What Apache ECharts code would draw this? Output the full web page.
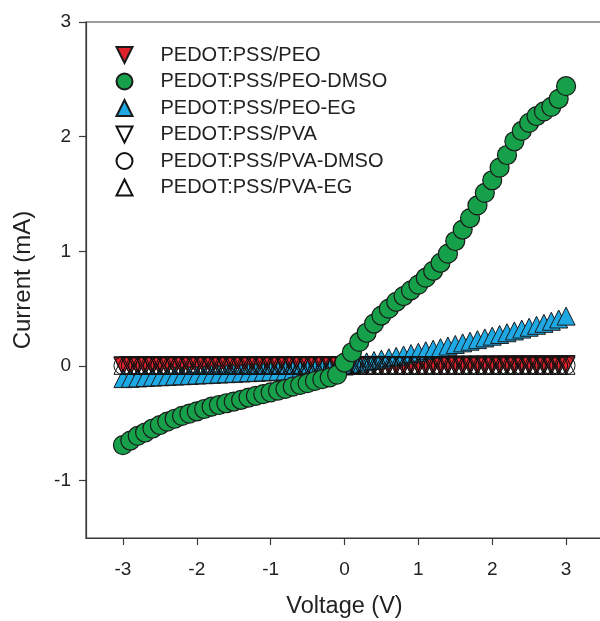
<!DOCTYPE html>
<html>
<head>
<meta charset="utf-8">
<script src="https://cdn.jsdelivr.net/npm/echarts@6/dist/echarts.min.js"></script>
<style>html,body{margin:0;padding:0;background:#fff;}#c{width:600px;height:621px;}</style>
</head>
<body>
<div id="c"></div>
<script>
var voltage = [-3.0,-2.9,-2.8,-2.7,-2.6,-2.5,-2.4,-2.3,-2.2,-2.1,-2.0,-1.9,-1.8,-1.7,-1.6,-1.5,-1.4,-1.3,-1.2,-1.1,-1.0,-0.9,-0.8,-0.7,-0.6,-0.5,-0.4,-0.3,-0.2,-0.1,0.0,0.1,0.2,0.3,0.4,0.5,0.6,0.7,0.8,0.9,1.0,1.1,1.2,1.3,1.4,1.5,1.6,1.7,1.8,1.9,2.0,2.1,2.2,2.3,2.4,2.5,2.6,2.7,2.8,2.9,3.0];

var peo = [-0.004,-0.004,-0.003,-0.003,-0.003,-0.002,-0.002,-0.002,-0.002,-0.001,-0.001,-0.001,-0.001,0,0,0,0,0,0.001,0.001,0.001,0.001,0.002,0.002,0.002,0.002,0.003,0.003,0.003,0.003,0.004,0.004,0.004,0.005,0.005,0.005,0.005,0.006,0.006,0.006,0.006,0.007,0.007,0.007,0.008,0.008,0.008,0.008,0.009,0.009,0.009,0.010,0.010,0.010,0.011,0.011,0.011,0.012,0.012,0.012,0.013];

var peoDmso = [-0.69,-0.65,-0.61,-0.58,-0.545,-0.515,-0.485,-0.46,-0.435,-0.415,-0.395,-0.375,-0.355,-0.34,-0.325,-0.31,-0.295,-0.275,-0.26,-0.245,-0.23,-0.215,-0.20,-0.18,-0.165,-0.15,-0.13,-0.115,-0.10,-0.075,0.03,0.12,0.21,0.29,0.37,0.44,0.50,0.56,0.61,0.66,0.71,0.77,0.83,0.90,0.98,1.09,1.19,1.29,1.40,1.51,1.62,1.73,1.84,1.96,2.05,2.12,2.18,2.22,2.26,2.33,2.44];

var peoEg = [-0.11,-0.107,-0.104,-0.10,-0.097,-0.094,-0.091,-0.088,-0.085,-0.082,-0.079,-0.076,-0.073,-0.07,-0.067,-0.064,-0.061,-0.058,-0.055,-0.052,-0.049,-0.046,-0.043,-0.04,-0.036,-0.032,-0.028,-0.023,-0.017,-0.01,0.0,0.012,0.024,0.036,0.048,0.06,0.072,0.084,0.096,0.108,0.12,0.133,0.146,0.16,0.174,0.188,0.202,0.216,0.23,0.245,0.26,0.275,0.29,0.306,0.322,0.338,0.355,0.372,0.39,0.41,0.435];

var pva = [0.002,0.002,0.002,0.002,0.002,0.002,0.002,0.002,0.002,0.002,0.002,0.002,0.002,0.002,0.002,0.002,0.002,0.002,0.002,0.002,0.002,0.002,0.002,0.002,0.002,0.002,0.002,0.002,0.002,0.002,0.002,0.002,0.002,0.002,0.002,0.002,0.002,0.002,0.002,0.002,0.002,0.002,0.002,0.002,0.002,0.002,0.002,0.002,0.002,0.002,0.002,0.002,0.002,0.002,0.002,0.002,0.002,0.002,0.002,0.002,0.002];

var pvaDmso = [0.004,0.004,0.004,0.004,0.004,0.004,0.004,0.004,0.004,0.004,0.004,0.004,0.004,0.004,0.004,0.004,0.004,0.004,0.004,0.004,0.004,0.004,0.004,0.004,0.004,0.004,0.004,0.004,0.004,0.004,0.004,0.004,0.004,0.004,0.004,0.004,0.004,0.004,0.004,0.004,0.004,0.004,0.004,0.004,0.004,0.004,0.004,0.004,0.004,0.004,0.004,0.004,0.004,0.004,0.004,0.004,0.004,0.004,0.004,0.004,0.004];

var pvaEg = [0.006,0.006,0.006,0.006,0.006,0.006,0.006,0.006,0.006,0.006,0.006,0.006,0.006,0.006,0.006,0.006,0.006,0.006,0.006,0.006,0.006,0.006,0.006,0.006,0.006,0.006,0.006,0.006,0.006,0.006,0.006,0.006,0.006,0.006,0.006,0.006,0.006,0.006,0.006,0.006,0.006,0.006,0.006,0.006,0.006,0.006,0.006,0.006,0.006,0.006,0.006,0.006,0.006,0.006,0.006,0.006,0.006,0.006,0.006,0.006,0.006];

var xTicks = [-3,-2,-1,0,1,2,3];
var yTicks = [-1,0,1,2,3];
var legendNames = ['PEDOT:PSS/PEO','PEDOT:PSS/PEO-DMSO','PEDOT:PSS/PEO-EG','PEDOT:PSS/PVA','PEDOT:PSS/PVA-DMSO','PEDOT:PSS/PVA-EG'];

function pairs(ys){ return voltage.map(function(v,i){ return [v, ys[i]]; }); }

var FONT = 'Liberation Sans, Arial, sans-serif';
var TXT = '#222';
var AX = '#3a3a3a';
var DOWN = 'path://M0,0L16,0L8,16Z';
var UP = 'path://M8,0L16,16L0,16Z';

var chart = echarts.init(document.getElementById('c'), null, {renderer:'canvas'});
chart.setOption({
  animation:false,
  backgroundColor:'#fff',
  grid:{left:86, top:22, right:-3, bottom:83, show:true, borderColor:AX, borderWidth:1.2, outerBoundsMode:'none', containLabel:false},
  legend:{
    orient:'vertical', left:115.5, top:45, padding:0, itemWidth:16, itemHeight:16, itemGap:6.5,
    data:legendNames,
    textStyle:{fontFamily:FONT, fontSize:20, color:TXT, padding:[0,0,0,23]},
    symbolKeepAspect:true
  },
  xAxis:{
    type:'value', min:-3.5, max:3.5,
    name:'Voltage (V)', nameLocation:'middle', nameGap:57,
    nameTextStyle:{fontFamily:FONT, fontSize:23.5, color:TXT},
    axisLine:{show:true, onZero:false, lineStyle:{color:AX, width:1.2}},
    axisTick:{show:true, inside:false, length:7, customValues:xTicks, lineStyle:{color:AX, width:1.2}},
    axisLabel:{customValues:xTicks, margin:22, fontFamily:FONT, fontSize:19, color:TXT},
    splitLine:{show:false}
  },
  yAxis:{
    type:'value', min:-1.5, max:3,
    name:'Current (mA)', nameLocation:'middle', nameGap:51, nameRotate:90,
    nameTextStyle:{fontFamily:FONT, fontSize:24, color:TXT},
    axisLine:{show:true, onZero:false, lineStyle:{color:AX, width:1.2}},
    axisTick:{show:true, inside:false, length:7, customValues:yTicks, lineStyle:{color:AX, width:1.2}},
    axisLabel:{customValues:yTicks, margin:15, fontFamily:FONT, fontSize:19, color:TXT},
    splitLine:{show:false}
  },
  series:[
    {name:legendNames[0], type:'scatter', data:pairs(peo), symbol:DOWN, symbolSize:18,
     itemStyle:{color:'#e0222a', borderColor:'#1a1a1a', borderWidth:1, opacity:1}},
    {name:legendNames[2], type:'scatter', data:pairs(peoEg), symbol:UP, symbolSize:18,
     itemStyle:{color:'#1ea8e4', borderColor:'#1a1a1a', borderWidth:1, opacity:1}},
    {name:legendNames[3], type:'scatter', data:pairs(pva), symbol:DOWN, symbolSize:18,
     itemStyle:{color:'rgba(0,0,0,0)', borderColor:'#111', borderWidth:1, opacity:1}},
    {name:legendNames[4], type:'scatter', data:pairs(pvaDmso), symbol:'circle', symbolSize:18,
     itemStyle:{color:'rgba(0,0,0,0)', borderColor:'#111', borderWidth:1, opacity:1}},
    {name:legendNames[5], type:'scatter', data:pairs(pvaEg), symbol:UP, symbolSize:18,
     itemStyle:{color:'rgba(0,0,0,0)', borderColor:'#111', borderWidth:1, opacity:1}},
    {name:legendNames[1], type:'scatter', data:pairs(peoDmso), symbol:'circle', symbolSize:19,
     itemStyle:{color:'#17a04a', borderColor:'#1a1a1a', borderWidth:1.2, opacity:1}}
  ]
});
</script>
</body>
</html>
